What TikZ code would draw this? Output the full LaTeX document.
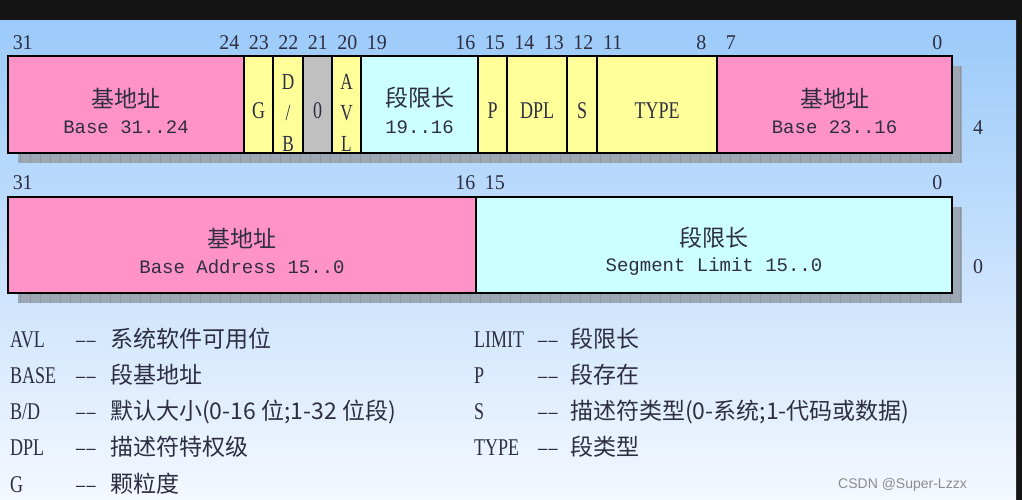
\documentclass[tikz,border=0pt]{standalone}
\usepackage{fontspec}
\setmainfont{Liberation Serif}
\newfontfamily\cjk{Noto Sans CJK SC}
\newfontfamily\narrowserif[FakeStretch=0.75]{Liberation Serif}
\newfontfamily\numserif[FakeStretch=0.95]{Liberation Serif}
\newfontfamily\basemono{Liberation Mono}
\newfontfamily\wmfont{Liberation Sans}
\usepackage{xcolor}
\usepackage{tikz}
\usetikzlibrary{positioning}
\definecolor{pinkfld}{HTML}{FF93C7}
\definecolor{yellowfld}{HTML}{FFFF99}
\definecolor{grayfld}{HTML}{C0C0C0}
\definecolor{cyanfld}{HTML}{CCFFFF}
\definecolor{skytop}{HTML}{9BCAFA}
\definecolor{skybot}{HTML}{F4F8FF}
\definecolor{ink}{HTML}{2E2E42}
\definecolor{shadowfld}{HTML}{9DA8B4}
\definecolor{shadowgrid}{HTML}{8C97A4}
\tikzstyle{field} = [draw=black, line width=1.8pt]
\tikzstyle{shadowbox} = [fill=shadowfld]

\begin{document}
\begin{tikzpicture}[x=1pt, y=-1pt, text=ink, inner sep=0pt,
    bitnum/.style={font=\numserif\fontsize{21}{24}\selectfont},
    tag/.style={font=\narrowserif\fontsize{24}{28}\selectfont},
    cn/.style={font=\cjk\fontsize{23}{27}\selectfont},
    en/.style={font=\basemono\fontsize{19}{22}\selectfont},
    stack/.style={align=center, font=\narrowserif\fontsize{23}{31}\selectfont}]
  \useasboundingbox (0,0) rectangle (1022,500);
  % Hintergrund
  \fill[black!92] (0,0) rectangle (1022,500);
  \shade[top color=skytop, bottom color=skybot] (0,21) rectangle (1016,500);
  % Schatten
  \fill[shadowbox] (18,66) rectangle (962,163);
  \fill[shadowbox] (18,207) rectangle (962,303);
  \draw[shadowgrid, line width=0.6pt, step=10] (18,66) grid (962,163);
  \draw[shadowgrid, line width=0.6pt, step=10] (18,207) grid (962,303);
  % Bitnummern
  \foreach \b in {31,24,23,22,21,20,19,16,15,14,13,12,11,8,7,0}
    \node[bitnum] (top\b) at ({22.75+(31-\b)*29.5},43) {\b};
  \foreach \b in {31,16,15,0}
    \node[bitnum] (low\b) at ({22.75+(31-\b)*29.5},183) {\b};
  % obere Doppelwort (Offset 4)
  \draw[field, fill=pinkfld] (8,56) rectangle (244,153);
  \draw[field, fill=yellowfld] (244,56) rectangle (273,153);
  \draw[field, fill=yellowfld] (273,56) rectangle (303,153);
  \draw[field, fill=grayfld] (303,56) rectangle (332,153);
  \draw[field, fill=yellowfld] (332,56) rectangle (361,153);
  \draw[field, fill=cyanfld] (361,56) rectangle (478,153);
  \draw[field, fill=yellowfld] (478,56) rectangle (507,153);
  \draw[field, fill=yellowfld] (507,56) rectangle (567,153);
  \draw[field, fill=yellowfld] (567,56) rectangle (597,153);
  \draw[field, fill=yellowfld] (597,56) rectangle (717,153);
  \draw[field, fill=pinkfld] (717,56) rectangle (952,153);
  \node[cn] (hibasecn) at (126,98) {基地址};
  \node[en] (hibaseen) at (126,127) {Base 31..24};
  \node[tag] (gbit) at (258.5,111) {G};
  \node[stack] (dbbit) at (288,113) {D\\/\\B};
  \node[tag] (zerobit) at (317.5,111) {0};
  \node[stack] (avlbit) at (346.5,113) {A\\V\\L};
  \node[cn] (hilimcn) at (419.5,98) {段限长};
  \node[en] (hilimen) at (419.5,127) {19..16};
  \node[tag] (pbit) at (492.5,111) {P};
  \node[tag] (dplbits) at (537,111) {DPL};
  \node[tag] (sbit) at (582,111) {S};
  \node[tag] (typebits) at (657,111) {TYPE};
  \node[cn] (midbasecn) at (834.5,98) {基地址};
  \node[en] (midbaseen) at (834.5,127) {Base 23..16};
  \node[bitnum] (offhi) at (978,128) {4};
  % untere Doppelwort (Offset 0)
  \draw[field, fill=pinkfld] (8,197) rectangle (476,293);
  \draw[field, fill=cyanfld] (476,197) rectangle (952,293);
  \node[cn] (lobasecn) at (242,238) {基地址};
  \node[en] (lobaseen) at (242,267) {Base Address 15..0};
  \node[cn] (lolimcn) at (714,238) {段限长};
  \node[en] (lolimen) at (714,267) {Segment Limit 15..0};
  \node[bitnum] (offlo) at (978,267) {0};
  % Legende
  \foreach \k/\t/\yy in {AVL/系统软件可用位/347.5, BASE/段基地址/383.5,
      B\slash D/默认大小(0-16 位;1-32 位段)/419.5, DPL/描述符特权级/455.5, G/颗粒度/492.5} {
    \node[tag, anchor=base west] (lkey\yy) at (10,\yy) {\k};
    \node[tag, anchor=base west] (ldash\yy) at (76,\yy) {–\kern1.5pt–};
    \node[cn, anchor=base west] (ltext\yy) at (110,\yy) {\t};
  }
  \foreach \k/\t/\yy in {LIMIT/段限长/347.5, P/段存在/383.5,
      S/描述符类型(0-系统;1-代码或数据)/419.5, TYPE/段类型/455.5} {
    \node[tag, anchor=base west] (rkey\yy) at (474,\yy) {\k};
    \node[tag, anchor=base west] (rdash\yy) at (538,\yy) {–\kern1.5pt–};
    \node[cn, anchor=base west] (rtext\yy) at (570,\yy) {\t};
  }
  \node[font=\wmfont\fontsize{14}{16}\selectfont, text=black!45, anchor=base east] (mark) at (967,488) {CSDN @Super-Lzzx};
\end{tikzpicture}
\end{document}
